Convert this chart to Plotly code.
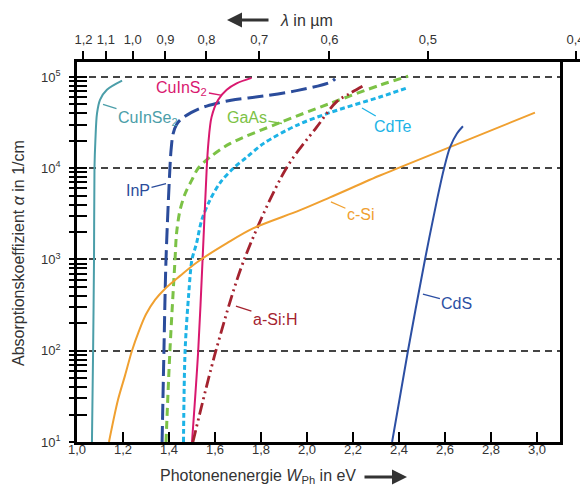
import math
import plotly.graph_objects as go

# ---------------- data ----------------
# photon energy in eV, absorption coefficient alpha in 1/cm
E_CuInSe2 = [1.065, 1.070, 1.074, 1.076, 1.080, 1.087, 1.100, 1.130, 1.196]
A_CuInSe2 = [10, 100, 1000, 1.0e4, 2.04e4, 3.98e4, 5.62e4, 7.24e4, 9.12e4]

E_InP = [1.370, 1.378, 1.387, 1.404, 1.409, 1.418, 1.433, 1.454, 1.496, 1.550, 1.605, 1.670, 1.810, 1.955, 2.100, 2.122]
A_InP = [10, 100, 1000, 1.0e4, 1.585e4, 2.40e4, 3.02e4, 3.47e4, 4.07e4, 4.68e4, 5.13e4, 5.56e4, 6.17e4, 7.08e4, 8.71e4, 9.55e4]

E_GaAs = [1.387, 1.404, 1.426, 1.433, 1.448, 1.470, 1.499, 1.527, 1.578, 1.665, 1.883, 2.100, 2.317, 2.440]
A_GaAs = [10, 100, 977, 1.95e3, 3.47e3, 5.25e3, 7.41e3, 1.0e4, 1.32e4, 1.86e4, 3.16e4, 5.13e4, 8.13e4, 1.02e5]

E_CdTe = [1.463, 1.470, 1.486, 1.500, 1.520, 1.542, 1.578, 1.622, 1.680, 1.738, 1.810, 1.955, 2.100, 2.317, 2.435]
A_CdTe = [10, 100, 427, 1000, 1.51e3, 2.69e3, 4.47e3, 6.92e3, 1.0e4, 1.32e4, 1.86e4, 2.95e4, 4.07e4, 6.03e4, 7.59e4]

E_CuInS2 = [1.500, 1.527, 1.546, 1.564, 1.571, 1.585, 1.614, 1.651, 1.694, 1.759]
A_CuInS2 = [10, 100, 1000, 1.0e4, 1.86e4, 3.63e4, 5.62e4, 7.24e4, 8.51e4, 9.77e4]

E_aSiH = [1.504, 1.604, 1.727, 1.910, 2.042, 2.129, 2.187, 2.245]
A_aSiH = [10, 100, 1000, 1.0e4, 2.82e4, 5.37e4, 6.61e4, 8.0e4]

E_cSi = [1.139, 1.178, 1.209, 1.239, 1.270, 1.300, 1.340, 1.383, 1.448, 1.522, 1.652, 1.765, 1.970, 2.100, 2.317, 2.404, 2.991]
A_cSi = [10, 28.8, 53.7, 100, 166, 251, 363, 479, 661, 933, 1.51e3, 2.19e3, 3.47e3, 4.79e3, 8.32e3, 1.02e4, 4.07e4]

E_CdS = [2.370, 2.439, 2.513, 2.565, 2.596, 2.622, 2.652, 2.678]
A_CdS = [10, 100, 1000, 4.47e3, 1.0e4, 1.70e4, 2.40e4, 2.88e4]

# label name, anchor energy, anchor alpha, text offset (px)
LABELS = ["CuInSe<sub>2</sub>", "CuInS<sub>2</sub>", "GaAs", "InP", "CdTe", "a-Si:H", "c-Si", "CdS"]
LABEL_E = [1.113, 1.630, 1.891, 1.387, 2.239, 1.691, 2.104, 2.504]
LABEL_A = [5.0e4, 6.3e4, 3.09e4, 6.76e3, 4.57e4, 309, 4.27e3, 417]
LABEL_DX = [45, -40, -35, -28, 31, 39, 30, 34]
LABEL_DY = [14, -7, -6, 7, 18, 13, 13, 9]

# ticks
X_TICKS = [1.0, 1.2, 1.4, 1.6, 1.8, 2.0, 2.2, 2.4, 2.6, 2.8, 3.0]
X_TICKTEXT = ["1,0", "1,2", "1,4", "1,6", "1,8", "2,0", "2,2", "2,4", "2,6", "2,8", "3,0"]
LAMBDA_TICKS = [1.2, 1.1, 1.0, 0.9, 0.8, 0.7, 0.6, 0.5, 0.4]
LAMBDA_TICKTEXT = ["1,2", "1,1", "1,0", "0,9", "0,8", "0,7", "0,6", "0,5", "0,4"]
Y_DECADES = [10, 100, 1000, 10000, 100000]
Y_DECADE_TEXT = ["10<sup>1</sup>", "10<sup>2</sup>", "10<sup>3</sup>", "10<sup>4</sup>", "10<sup>5</sup>"]
Y_MINOR_MULT = [2, 3, 4, 5, 6, 7, 8, 9]
Y_GRID = [100, 1000, 10000, 100000]

# ---------------- styles ----------------
series = [
    (E_CuInSe2, A_CuInSe2, "#4b9ea9", "solid", 2.0),
    (E_InP, A_InP, "#2b4c9b", "16px,6px", 3.0),
    (E_GaAs, A_GaAs, "#7cc246", "8px,5px", 3.0),
    (E_CdTe, A_CdTe, "#1db3e6", "5px,3px", 3.0),
    (E_CuInS2, A_CuInS2, "#d9186f", "solid", 2.0),
    (E_aSiH, A_aSiH, "#a4232f", "12px,4px,2px,4px,2px,4px", 2.8),
    (E_cSi, A_cSi, "#f0a030", "solid", 2.0),
    (E_CdS, A_CdS, "#2c4fa3", "solid", 2.0),
]
label_colors = ["#4b9ea9", "#d9186f", "#7cc246", "#2b4c9b", "#1db3e6", "#a4232f", "#f0a030", "#2c4fa3"]

FONT = "Liberation Sans, Arial, Helvetica, sans-serif"
TXT = "#333333"

fig = go.Figure()
for ex, ay_, col, dash, w in series:
    fig.add_trace(go.Scatter(x=ex, y=ay_, mode="lines",
                             line=dict(color=col, dash=dash, width=w, shape="spline", smoothing=0.9),
                             hoverinfo="skip"))

# helper traces so the overlay axes exist
fig.add_trace(go.Scatter(x=[], y=[], xaxis="x", yaxis="y2", showlegend=False))
fig.add_trace(go.Scatter(x=[], y=[], xaxis="x", yaxis="y3", showlegend=False))
fig.add_trace(go.Scatter(x=[], y=[], xaxis="x2", yaxis="y", showlegend=False))

y_all = []
y_text = []
for d, t in zip(Y_DECADES, Y_DECADE_TEXT):
    y_all.append(d)
    y_text.append(t)
    if d < Y_DECADES[-1]:
        for m in Y_MINOR_MULT:
            y_all.append(m * d)
            y_text.append("")

yrange = [1, 5.164]
x_dom_end = 483 / 511

# the page body has an 8 px margin, so the figure is 8 px smaller and shifted
fig.update_layout(
    width=580, height=480,
    margin=dict(l=69, r=0, t=54, b=46, autoexpand=False),
    plot_bgcolor="rgba(0,0,0,0)", paper_bgcolor="white",
    showlegend=False,
    separators=",.",
    font=dict(family=FONT, size=13, color=TXT),
    xaxis=dict(domain=[0, x_dom_end], range=[1.0, 3.1], tickmode="array",
               tickvals=X_TICKS, ticktext=X_TICKTEXT, automargin=False,
               ticks="inside", ticklen=10, tickwidth=2, tickcolor="black",
               showline=True, linewidth=2.5, linecolor="black", mirror=True,
               showgrid=False, zeroline=False, ticklabelstandoff=-6,
               tickfont=dict(size=13, color=TXT)),
    xaxis2=dict(domain=[0, 1], anchor="y", side="top", automargin=False,
                range=[1.0062, 3.1524], tickmode="array",
                tickvals=[1.24 / l for l in LAMBDA_TICKS], ticktext=LAMBDA_TICKTEXT,
                ticks="outside", ticklen=8, tickwidth=2, tickcolor="black",
                showline=True, linewidth=2.5, linecolor="black",
                showgrid=False, zeroline=False, ticklabelstandoff=2,
                tickfont=dict(size=13, color=TXT)),
    yaxis=dict(type="log", range=yrange, anchor="x", tickmode="array",
               tickvals=y_all, ticktext=y_text, automargin=False,
               ticks="outside", ticklen=5, tickwidth=2, tickcolor="black",
               showline=True, linewidth=2.5, linecolor="black", mirror=True,
               showgrid=False, zeroline=False, ticklabelstandoff=6,
               tickfont=dict(size=13, color=TXT)),
    yaxis2=dict(type="log", range=yrange, overlaying="y", anchor="x", side="left",
                tickmode="array", tickvals=y_all, ticks="inside", ticklen=10,
                tickwidth=2, tickcolor="black", showticklabels=False, automargin=False,
                showline=False, showgrid=False, zeroline=False),
    yaxis3=dict(type="log", range=yrange, overlaying="y", anchor="x", side="left",
                tickmode="array", tickvals=Y_GRID, ticks="", showticklabels=False,
                showline=False, showgrid=True, gridcolor="#444444", gridwidth=2,
                griddash="7px,5px", zeroline=False, automargin=False),
)

# curve labels with leader lines
for name, e, a, dx, dy, col in zip(LABELS, LABEL_E, LABEL_A, LABEL_DX, LABEL_DY, label_colors):
    fig.add_annotation(x=e, y=math.log10(a), xref="x", yref="y", text=name,
                       showarrow=True, arrowhead=0, arrowwidth=1.3, arrowcolor=col,
                       ax=dx, ay=dy, font=dict(size=16, color=col, family=FONT))

# axis titles (positions given in window pixels, converted to paper units)
def px_x(p):
    return (p - 77) / 511

def px_y(p):
    return (442 - p) / 380

fig.add_annotation(xref="paper", yref="paper", x=px_x(18), y=px_y(253),
                   xanchor="center", yanchor="middle",
                   text="Absorptionskoeffizient <i>α</i> in 1/cm", textangle=-90,
                   showarrow=False, font=dict(size=16, color=TXT, family=FONT))
fig.add_annotation(xref="paper", yref="paper", x=px_x(358), y=px_y(476),
                   xanchor="right", yanchor="middle",
                   text="Photonenenergie <i>W</i><sub>Ph</sub> in eV",
                   showarrow=False, font=dict(size=16, color=TXT, family=FONT))
fig.add_annotation(xref="paper", yref="paper", x=px_x(407), y=px_y(477), text="",
                   showarrow=True, arrowhead=2, arrowsize=1, arrowwidth=3,
                   arrowcolor=TXT, ax=-44, ay=0)
fig.add_annotation(xref="paper", yref="paper", x=px_x(278), y=px_y(20),
                   xanchor="left", yanchor="middle",
                   text="<i>λ</i> in µm",
                   showarrow=False, font=dict(size=16, color=TXT, family=FONT))
fig.add_annotation(xref="paper", yref="paper", x=px_x(227), y=px_y(20), text="",
                   showarrow=True, arrowhead=2, arrowsize=1, arrowwidth=3,
                   arrowcolor=TXT, ax=43, ay=0)

fig.write_html("out.html")
